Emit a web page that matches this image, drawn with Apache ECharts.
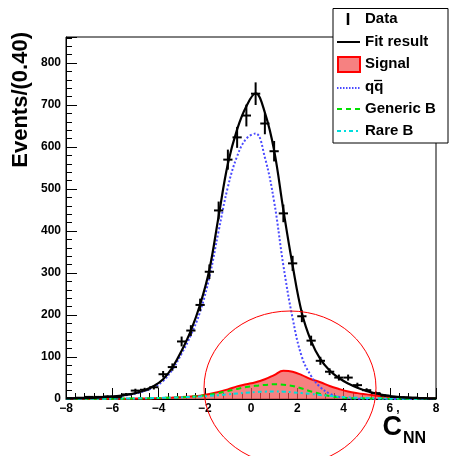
<!DOCTYPE html>
<html>
<head>
<meta charset="utf-8">
<script src="https://cdn.jsdelivr.net/npm/echarts@6/dist/echarts.min.js"></script>
<style>html,body{margin:0;padding:0;background:#fff}#c{width:449px;height:456px}</style>
</head>
<body>
<div id="c"></div>
<script>
// ---- data ----
const binCenters = [-7.8,-7.4,-7.0,-6.6,-6.2,-5.8,-5.4,-5.0,-4.6,-4.2,-3.8,-3.4,-3.0,-2.6,-2.2,-1.8,-1.4,-1.0,-0.6,-0.2,0.2,0.6,1.0,1.4,1.8,2.2,2.6,3.0,3.4,3.8,4.2,4.6,5.0,5.4,5.8,6.2,6.6,7.0,7.4,7.8];
const dataCounts = [2,3,5,5,6,4,11,20,22,28,59,76,137,163,224,303,449,570,623,675,727,656,590,442,323,197,139,91,65,51,51,33,21,14,8,5,4,3,2,1];

const curveX = [-8,-7.8,-7.4,-7.0,-6.6,-6.2,-5.8,-5.4,-5.0,-4.6,-4.2,-3.8,-3.4,-3.0,-2.6,-2.2,-1.8,-1.4,-1.0,-0.6,-0.2,0.2,0.6,1.0,1.4,1.8,2.2,2.6,3.0,3.4,3.8,4.2,4.6,5.0,5.4,5.8,6.2,6.6,7.0,7.4,7.8,8];
const fitCurve = [1.3,1.5,2,2.5,3.5,5,7,10,14,21,31,47,75,115,163,225,308,435,560,642,697,728,682,592,450,318,205,138,95,68,50,37,27,19,13,9,6,4,3,2,1.5,1.3];
const qqCurve = [1.2,1.4,1.8,2.3,3.2,4.5,6.4,9,13,19,28,43,70,108,152,208,290,400,505,578,620,632,575,470,318,192,100,55,28,13,5,1.8,0.7,0.3,0.1,0,0,0,0,0,0,0];
const signalCurve = [0.1,0.15,0.2,0.25,0.3,0.4,0.5,0.6,0.9,1.2,1.7,2.4,3.3,4.5,6,8,12,17,23,30,35,40,47,57,67,65,57,47,40,31,24,18,14,11,8,5.5,4,2.8,2,1.4,1,0.8];
const genericCurve = [0.3,0.3,0.4,0.5,0.6,0.7,0.8,1,1.2,1.5,2,2.6,3.3,4.2,5.5,7.5,10.5,14.5,19,24,28.5,31.5,33.5,35,34,31,25,18,12,7,4,2.5,1.8,1.4,1.1,0.9,0.7,0.6,0.5,0.4,0.3,0.3];
const rareCurve = [0.4,0.4,0.5,0.6,0.7,0.8,1,1.2,1.5,1.8,2.2,2.7,3.3,4,5,6,7.5,9,11,13,15,16.5,17.5,18,17.5,16,14,12,9.5,7.5,5.5,4,3,2.3,1.8,1.4,1.1,0.9,0.7,0.6,0.5,0.4];

const legendNames = ['Data','Fit result','Signal','qq','Generic B','Rare B'];
const binWidth = 0.4;

// ---- chart ----
const chart = echarts.init(document.getElementById('c'), null, {renderer:'canvas'});
const pts = arr => curveX.map((x,i)=>[x, arr[i]]);
const FONT = '"Liberation Sans", Arial, sans-serif';
const SIG_FILL = 'rgba(242,80,80,0.72)';

const option = {
  animation:false,
  backgroundColor:'#fff',
  grid:{left:66, right:13, top:37, bottom:57, show:true, borderColor:'#000', borderWidth:1, backgroundColor:'transparent'},
  xAxis:{
    type:'value', min:-8, max:8, interval:2,
    axisLine:{onZero:false, lineStyle:{color:'#000', width:1}},
    axisTick:{inside:true, length:11, lineStyle:{color:'#000'}},
    minorTick:{show:true, splitNumber:5, length:6, lineStyle:{color:'#000'}},
    splitLine:{show:false},
    axisLabel:{color:'#000', fontFamily:FONT, fontWeight:'bold', fontSize:12, margin:4,
      formatter:v => v < 0 ? '\u2212' + Math.abs(v) : String(v)}
  },
  yAxis:{
    type:'value', min:0, max:862, interval:100,
    axisLine:{show:true, onZero:false, lineStyle:{color:'#000', width:1}},
    axisTick:{inside:true, length:11, lineStyle:{color:'#000'}},
    minorTick:{show:true, splitNumber:5, length:6, lineStyle:{color:'#000'}},
    splitLine:{show:false},
    axisLabel:{color:'#000', fontFamily:FONT, fontWeight:'bold', fontSize:12, margin:5, showMaxLabel:false,
      formatter:v => (v % 100 === 0 ? String(v) : '')}
  },
  series:[
    {name:'Signal', type:'line', data:pts(signalCurve), smooth:0.4, showSymbol:false, z:2,
      lineStyle:{color:'#ff0000', width:2}, areaStyle:{color:SIG_FILL, opacity:1, origin:'start'}},
    {name:'qq', type:'line', data:pts(qqCurve), smooth:0.4, showSymbol:false, z:3,
      lineStyle:{color:'#4a4aff', width:2, type:'dotted'}},
    {name:'Generic B', type:'line', data:pts(genericCurve), smooth:0.4, showSymbol:false, z:4,
      lineStyle:{color:'#00e000', width:2, type:[5,4]}},
    {name:'Rare B', type:'line', data:pts(rareCurve), smooth:0.4, showSymbol:false, z:5,
      lineStyle:{color:'#00dddd', width:2, type:[4,3,2,3]}},
    {name:'Fit result', type:'line', data:pts(fitCurve), smooth:0.4, showSymbol:false, z:6,
      lineStyle:{color:'#000', width:2.2}},
    {name:'Data', type:'custom', z:10,
      data:binCenters.map((x,i)=>[x, dataCounts[i]]),
      renderItem:(params, api) => {
        const x = api.value(0), y = api.value(1), e = Math.sqrt(y);
        const c = api.coord([x, y]);
        const l = api.coord([x - binWidth/2, y]);
        const r = api.coord([x + binWidth/2, y]);
        const t = api.coord([x, y + e]);
        const b = api.coord([x, Math.max(0, y - e)]);
        return {type:'group', children:[
          {type:'line', shape:{x1:l[0], y1:c[1], x2:r[0], y2:c[1]}, style:{stroke:'#000', lineWidth:2}},
          {type:'line', shape:{x1:c[0], y1:t[1], x2:c[0], y2:b[1]}, style:{stroke:'#000', lineWidth:2}}
        ]};
      }}
  ],
  graphic:[
    // y-axis title
    {type:'text', x:21, y:32, rotation:Math.PI/2, z:100,
      style:{text:'Events/(0.40)', font:'bold 22px ' + FONT, fill:'#000', align:'right', verticalAlign:'middle'}},
    // x-axis title
    {type:'text', x:402, y:441, z:100, style:{text:'C', font:'bold 27px ' + FONT, fill:'#000', align:'right', verticalAlign:'bottom'}},
    {type:'text', x:403, y:447, z:100, style:{text:'NN', font:'bold 16px ' + FONT, fill:'#000', align:'left', verticalAlign:'bottom'}},
    {type:'text', x:398, y:403, z:100, style:{text:',', font:'bold 12px ' + FONT, fill:'#000', align:'center', verticalAlign:'top'}},
    // annotation ellipse
    {type:'ellipse', z:90, shape:{cx:290, cy:388, rx:86, ry:77}, style:{fill:null, stroke:'#ff0000', lineWidth:1}},
    // legend box
    {type:'rect', z:100, shape:{x:333, y:8.5, width:115, height:134.5}, style:{fill:'#fff', stroke:'#000', lineWidth:1}},
    {type:'line', z:101, shape:{x1:348, y1:13, x2:348, y2:25}, style:{stroke:'#000', lineWidth:2.5}},
    {type:'line', z:101, shape:{x1:337, y1:42, x2:360, y2:42}, style:{stroke:'#000', lineWidth:2}},
    {type:'rect', z:101, shape:{x:338, y:57, width:22, height:15}, style:{fill:SIG_FILL, stroke:'#ff0000', lineWidth:2}},
    {type:'line', z:101, shape:{x1:337, y1:88, x2:360, y2:88}, style:{stroke:'#4a4aff', lineWidth:2, lineDash:[1.5,1.5]}},
    {type:'line', z:101, shape:{x1:337, y1:109, x2:360, y2:109}, style:{stroke:'#00e000', lineWidth:2, lineDash:[5,4]}},
    {type:'line', z:101, shape:{x1:337, y1:131, x2:360, y2:131}, style:{stroke:'#00dddd', lineWidth:2, lineDash:[4,3,2,3]}},
    {type:'text', z:101, x:365, y:19, style:{text:legendNames[0], font:'bold 15px ' + FONT, fill:'#000', verticalAlign:'middle'}},
    {type:'text', z:101, x:365, y:42, style:{text:legendNames[1], font:'bold 15px ' + FONT, fill:'#000', verticalAlign:'middle'}},
    {type:'text', z:101, x:365, y:64, style:{text:legendNames[2], font:'bold 15px ' + FONT, fill:'#000', verticalAlign:'middle'}},
    {type:'text', z:101, x:365, y:87, style:{text:legendNames[3], font:'bold 15px ' + FONT, fill:'#000', verticalAlign:'middle'}},
    {type:'line', z:101, shape:{x1:374, y1:80.5, x2:382, y2:80.5}, style:{stroke:'#000', lineWidth:1.3}},
    {type:'text', z:101, x:365, y:109, style:{text:legendNames[4], font:'bold 15px ' + FONT, fill:'#000', verticalAlign:'middle'}},
    {type:'text', z:101, x:365, y:131, style:{text:legendNames[5], font:'bold 15px ' + FONT, fill:'#000', verticalAlign:'middle'}}
  ]
};
chart.setOption(option);
</script>
</body>
</html>
